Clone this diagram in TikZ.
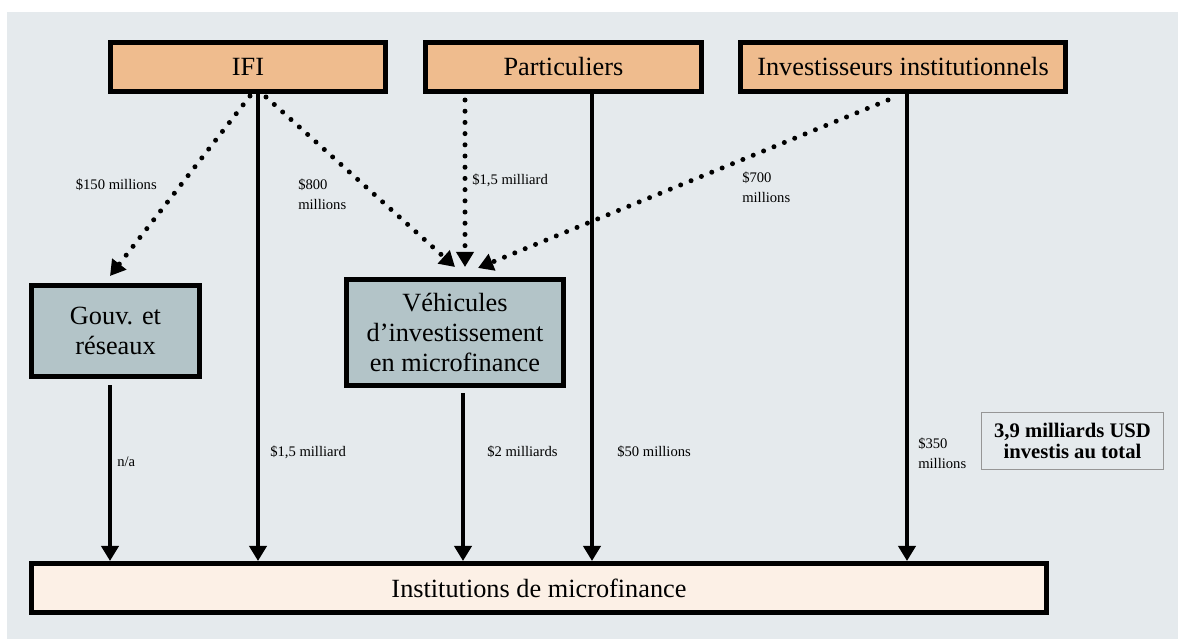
\documentclass[tikz,border=0pt]{standalone}
\usepackage{fontspec}
\setmainfont{Liberation Serif}
\usetikzlibrary{arrows.meta,calc,positioning}
\definecolor{fond}{RGB}{229,234,237}
\definecolor{orange}{RGB}{239,188,142}
\definecolor{gris}{RGB}{179,196,200}
\definecolor{creme}{RGB}{252,240,230}
\definecolor{cadre}{RGB}{150,150,150}

\begin{document}
\begin{tikzpicture}[x=0.025cm,y=-0.025cm,
  boite/.style={draw=black,line width=0.125cm,inner sep=0pt,align=center,font=\fontsize{18.7}{21.5}\selectfont},
  source/.style={boite,fill=orange,minimum height=1.225cm},
  inter/.style={boite,fill=gris},
  flux/.style={line width=0.11cm,-{Triangle[length=0.38cm,width=0.43cm]}},
  pointille/.style={line width=0.125cm,line cap=round,dash pattern=on 0pt off 0.28cm,-{Triangle[length=0.38cm,width=0.43cm]}},
  montant/.style={inner sep=0pt,align=left,font=\fontsize{10.4}{14}\selectfont}]
\useasboundingbox (0,0) rectangle (1178,639);
\fill[fond] (7,12) rectangle (1178,639);
% sources
\node[source,minimum width=6.875cm] (ifi) at (248,67) {IFI};
\node[source,minimum width=6.9cm] (part) at (563.5,67) {Particuliers};
\node[source,minimum width=8.125cm] (inv) at (903,67) {Investisseurs institutionnels};
% intermediaires
\node[inter,minimum width=4.2cm,minimum height=2.275cm] (gouv) at (115.5,331) {Gouv. et\\réseaux};
\node[inter,minimum width=5.425cm,minimum height=2.65cm] (veh) at (455,332.5) {Véhicules\\d’investissement\\en microfinance};
\node[boite,fill=creme,minimum width=25.375cm,minimum height=1.225cm] (imf) at (539,588) {Institutions de microfinance};
\node[draw=cadre,line width=0.025cm,inner sep=0pt,minimum width=4.55cm,minimum height=1.425cm,align=center,font=\fontsize{14.7}{15}\selectfont\bfseries] (total) at (1072.5,441) {3,9 milliards USD\\investis au total};
% points de depart / arrivee
\coordinate (ifi-g) at ($(ifi.south)+(2,2)$);
\coordinate (ifi-v) at ($(ifi.south)+(18,3)$);
\coordinate (ifi-m) at ($(ifi.south)+(10,0)$);
\coordinate (part-v) at ($(part.south)+(-98.5,6)$);
\coordinate (part-m) at ($(part.south)+(28.5,0)$);
\coordinate (inv-v) at ($(inv.south)+(-15,6)$);
\coordinate (inv-m) at ($(inv.south)+(4,0)$);
\coordinate (gouv-m) at ($(gouv.south)+(-5.5,6)$);
\coordinate (veh-m) at ($(veh.south)+(8,5)$);
\coordinate (g-in) at ($(gouv.north)+(-5.5,-7)$);
\coordinate (v-in1) at ($(veh.north)+(0,-10)$);
\coordinate (v-in2) at ($(veh.north)+(10,-10)$);
\coordinate (v-in3) at ($(veh.north)+(23,-9)$);
% flux en pointille
\draw[pointille] (ifi-g) -- (g-in);
\draw[pointille] (ifi-v) -- (v-in1);
\draw[pointille] (part-v) -- (v-in2);
\draw[pointille] (inv-v) -- (v-in3);
% flux directs
\draw[flux] (ifi-m) -- (ifi-m |- imf.north);
\draw[flux] (part-m) -- (part-m |- imf.north);
\draw[flux] (inv-m) -- (inv-m |- imf.north);
\draw[flux] (gouv-m) -- (gouv-m |- imf.north);
\draw[flux] (veh-m) -- (veh-m |- imf.north);
% montants
\node[montant,anchor=east] (m150) at (157,185) {\$150 millions};
\node[montant,anchor=west] (m800) at (298,194) {\$800\\millions};
\node[montant,anchor=west] (m15a) at (472,180) {\$1,5 milliard};
\node[montant,anchor=west] (m700) at (742,187) {\$700\\millions};
\node[montant,anchor=west] (mna) at (117,462) {n/a};
\node[montant,anchor=west] (m15b) at (270,452) {\$1,5 milliard};
\node[montant,anchor=west] (m2) at (487,452) {\$2 milliards};
\node[montant,anchor=west] (m50) at (617,452) {\$50 millions};
\node[montant,anchor=west] (m350) at (918,453) {\$350\\millions};
\end{tikzpicture}
\end{document}
